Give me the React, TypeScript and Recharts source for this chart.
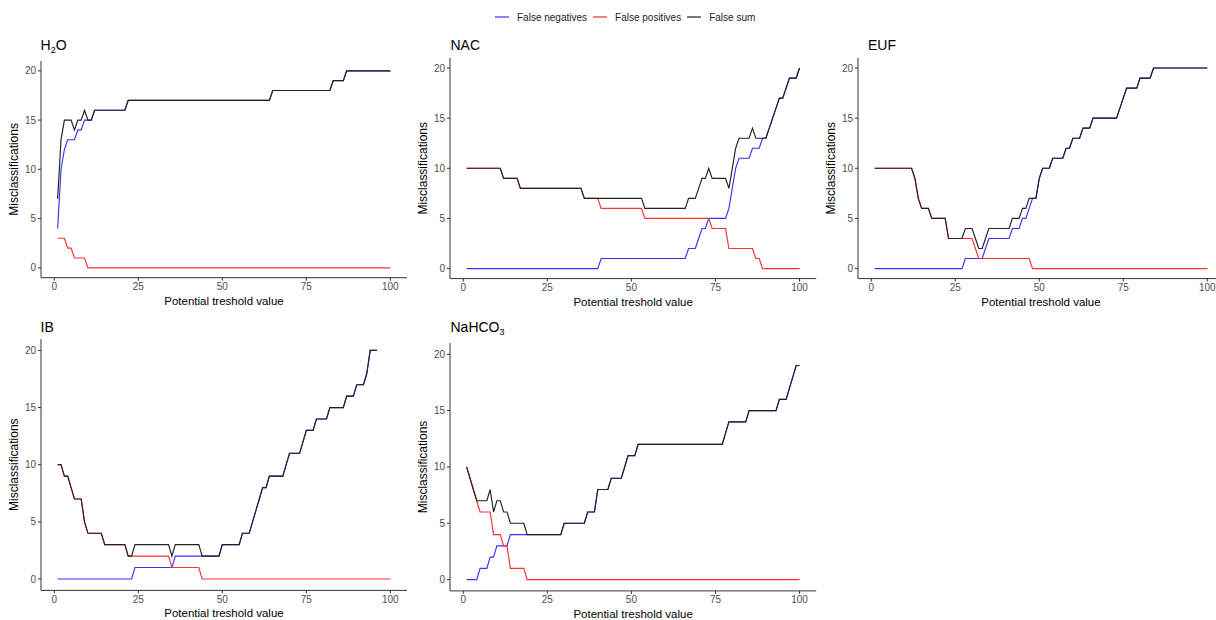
import React from 'react'
import { LineChart, Line, XAxis, YAxis } from 'recharts'

type Pt = [number, number]

// vertices: [threshold, misclassifications]
const h2oNeg: Pt[] = [[1, 4], [2, 10], [3, 12], [4, 13], [6, 13], [7, 14], [8, 14], [9, 15], [11, 15], [12, 16], [21, 16], [22, 17], [64, 17], [65, 18], [82, 18], [83, 19], [86, 19], [87, 20], [100, 20]]
const h2oPos: Pt[] = [[1, 3], [3, 3], [4, 2], [5, 2], [6, 1], [9, 1], [10, 0], [100, 0]]
const h2oSum: Pt[] = [[1, 7], [2, 13], [3, 15], [5, 15], [6, 14], [7, 15], [8, 15], [9, 16], [10, 15], [11, 15], [12, 16], [21, 16], [22, 17], [64, 17], [65, 18], [82, 18], [83, 19], [86, 19], [87, 20], [100, 20]]

const nacNeg: Pt[] = [[1, 0], [40, 0], [41, 1], [66, 1], [67, 2], [69, 2], [70, 3], [71, 4], [72, 4], [73, 5], [78, 5], [79, 6], [80, 8], [81, 10], [82, 11], [85, 11], [86, 12], [88, 12], [89, 13], [90, 13], [91, 14], [92, 15], [93, 16], [94, 17], [95, 17], [96, 18], [97, 19], [99, 19], [100, 20]]
const nacPos: Pt[] = [[1, 10], [11, 10], [12, 9], [16, 9], [17, 8], [35, 8], [36, 7], [40, 7], [41, 6], [53, 6], [54, 5], [73, 5], [74, 4], [78, 4], [79, 2], [86, 2], [87, 1], [88, 1], [89, 0], [100, 0]]
const nacSum: Pt[] = [[1, 10], [11, 10], [12, 9], [16, 9], [17, 8], [35, 8], [36, 7], [53, 7], [54, 6], [66, 6], [67, 7], [69, 7], [70, 8], [71, 9], [72, 9], [73, 10], [74, 9], [78, 9], [79, 8], [80, 10], [81, 12], [82, 13], [85, 13], [86, 14], [87, 13], [90, 13], [91, 14], [92, 15], [93, 16], [94, 17], [95, 17], [96, 18], [97, 19], [99, 19], [100, 20]]

const eufNeg: Pt[] = [[1, 0], [27, 0], [28, 1], [33, 1], [34, 2], [35, 3], [41, 3], [42, 4], [44, 4], [45, 5], [46, 5], [47, 6], [48, 7], [49, 7], [50, 9], [51, 10], [53, 10], [54, 11], [57, 11], [58, 12], [59, 12], [60, 13], [62, 13], [63, 14], [65, 14], [66, 15], [73, 15], [74, 16], [75, 17], [76, 18], [79, 18], [80, 19], [83, 19], [84, 20], [100, 20]]
const eufPos: Pt[] = [[1, 10], [12, 10], [13, 9], [14, 7], [15, 6], [17, 6], [18, 5], [22, 5], [23, 3], [30, 3], [31, 2], [32, 1], [47, 1], [48, 0], [100, 0]]
const eufSum: Pt[] = [[1, 10], [12, 10], [13, 9], [14, 7], [15, 6], [17, 6], [18, 5], [22, 5], [23, 3], [27, 3], [28, 4], [30, 4], [31, 3], [32, 2], [33, 2], [34, 3], [35, 4], [41, 4], [42, 5], [44, 5], [45, 6], [46, 6], [47, 7], [49, 7], [50, 9], [51, 10], [53, 10], [54, 11], [57, 11], [58, 12], [59, 12], [60, 13], [62, 13], [63, 14], [65, 14], [66, 15], [73, 15], [74, 16], [75, 17], [76, 18], [79, 18], [80, 19], [83, 19], [84, 20], [100, 20]]

const ibNeg: Pt[] = [[1, 0], [23, 0], [24, 1], [35, 1], [36, 2], [49, 2], [50, 3], [55, 3], [56, 4], [58, 4], [59, 5], [60, 6], [61, 7], [62, 8], [63, 8], [64, 9], [68, 9], [69, 10], [70, 11], [73, 11], [74, 12], [75, 13], [77, 13], [78, 14], [81, 14], [82, 15], [86, 15], [87, 16], [89, 16], [90, 17], [92, 17], [93, 18], [94, 20], [96, 20]]
const ibPos: Pt[] = [[1, 10], [2, 10], [3, 9], [4, 9], [5, 8], [6, 7], [8, 7], [9, 5], [10, 4], [14, 4], [15, 3], [21, 3], [22, 2], [34, 2], [35, 1], [43, 1], [44, 0], [100, 0]]
const ibSum: Pt[] = [[1, 10], [2, 10], [3, 9], [4, 9], [5, 8], [6, 7], [8, 7], [9, 5], [10, 4], [14, 4], [15, 3], [21, 3], [22, 2], [23, 2], [24, 3], [34, 3], [35, 2], [36, 3], [43, 3], [44, 2], [49, 2], [50, 3], [55, 3], [56, 4], [58, 4], [59, 5], [60, 6], [61, 7], [62, 8], [63, 8], [64, 9], [68, 9], [69, 10], [70, 11], [73, 11], [74, 12], [75, 13], [77, 13], [78, 14], [81, 14], [82, 15], [86, 15], [87, 16], [89, 16], [90, 17], [92, 17], [93, 18], [94, 20], [96, 20]]

const nahNeg: Pt[] = [[1, 0], [4, 0], [5, 1], [7, 1], [8, 2], [9, 2], [10, 3], [13, 3], [14, 4], [29, 4], [30, 5], [36, 5], [37, 6], [39, 6], [40, 8], [43, 8], [44, 9], [47, 9], [48, 10], [49, 11], [51, 11], [52, 12], [77, 12], [78, 13], [79, 14], [84, 14], [85, 15], [93, 15], [94, 16], [96, 16], [97, 17], [98, 18], [99, 19], [100, 19]]
const nahPos: Pt[] = [[1, 10], [2, 9], [3, 8], [4, 7], [5, 6], [8, 6], [9, 4], [11, 4], [12, 3], [13, 3], [14, 1], [18, 1], [19, 0], [100, 0]]
const nahSum: Pt[] = [[1, 10], [2, 9], [3, 8], [4, 7], [7, 7], [8, 8], [9, 6], [10, 7], [11, 7], [12, 6], [13, 6], [14, 5], [18, 5], [19, 4], [29, 4], [30, 5], [36, 5], [37, 6], [39, 6], [40, 8], [43, 8], [44, 9], [47, 9], [48, 10], [49, 11], [51, 11], [52, 12], [77, 12], [78, 13], [79, 14], [84, 14], [85, 15], [93, 15], [94, 16], [96, 16], [97, 17], [98, 18], [99, 19], [100, 19]]

const X_TICKS = [0, 25, 50, 75, 100]
const Y_TICKS = [0, 5, 10, 15, 20]
// ggplot-style 5% expansion around 1..100 and 0..20
const X_DOMAIN: [number, number] = [-3.95, 104.95]
const Y_DOMAIN: [number, number] = [-1, 21]

const SERIES = [
  { name: 'False negatives', color: '#3535ff' },
  { name: 'False positives', color: '#ff3030' },
  { name: 'False sum', color: '#222222' },
]

const FONT = '"Liberation Sans", Arial, sans-serif'
const YW = 41
const MT = 4
const MR = 4
const XH = 34

const rows = (pts: Pt[]) => pts.map(([x, y]) => ({ x, y }))

const XTitle = (props: any) => {
  const vb = props.viewBox ?? props
  return (
    <text x={vb.x + vb.width / 2} y={vb.y + 23} textAnchor="middle" dominantBaseline="central" fontSize={11.5} fill="#000">
      Potential treshold value
    </text>
  )
}

const YTitle = (props: any) => {
  const vb = props.viewBox ?? props
  const cx = vb.x + vb.width - 27
  const cy = vb.y + vb.height / 2
  return (
    <text x={cx} y={cy} transform={`rotate(-90 ${cx} ${cy})`} textAnchor="middle" dominantBaseline="central" fontSize={12} fill="#000">
      Misclassifications
    </text>
  )
}

type PanelProps = {
  title: React.ReactNode
  titleX: number
  titleY: number
  left: number
  top: number
  w: number
  h: number
  data: Pt[][]
}

const Panel = ({ title, titleX, titleY, left, top, w, h, data }: PanelProps) => (
  <>
    <div style={{ position: 'absolute', left: titleX, top: titleY, fontSize: 14, lineHeight: '14px', color: '#000', whiteSpace: 'nowrap' }}>
      {title}
    </div>
    <div style={{ position: 'absolute', left: left - YW, top: top - MT }}>
      <LineChart width={YW + w + MR} height={MT + h + XH} margin={{ top: MT, right: MR, left: 0, bottom: 0 }}>
        <XAxis
          type="number"
          dataKey="x"
          domain={X_DOMAIN}
          ticks={X_TICKS}
          interval={0}
          height={XH}
          tickSize={3}
          tickMargin={2.5}
          tick={{ fontSize: 10, fill: '#4d4d4d' }}
          axisLine={{ stroke: '#333' }}
          tickLine={{ stroke: '#333' }}
          label={XTitle}
        />
        <YAxis
          type="number"
          domain={Y_DOMAIN}
          ticks={Y_TICKS}
          interval={0}
          width={YW}
          tickSize={3}
          tickMargin={2}
          tick={{ fontSize: 10, fill: '#4d4d4d' }}
          axisLine={{ stroke: '#333' }}
          tickLine={{ stroke: '#333' }}
          label={YTitle}
        />
        {data.map((pts, i) => (
          <Line
            key={SERIES[i].name}
            data={rows(pts)}
            dataKey="y"
            type="linear"
            stroke={SERIES[i].color}
            strokeWidth={1.15}
            dot={false}
            activeDot={false}
            isAnimationActive={false}
          />
        ))}
      </LineChart>
    </div>
  </>
)

const Legend = () => (
  <div style={{ position: 'absolute', left: 495, top: 10, display: 'flex', alignItems: 'center', height: 14, fontSize: 10, color: '#222' }}>
    {SERIES.map((s, i) => (
      <div key={s.name} style={{ display: 'flex', alignItems: 'center', marginRight: i < 2 ? 6 : 0 }}>
        <svg width={14} height={14}>
          <line x1={0} x2={14} y1={7} y2={7} stroke={s.color} strokeWidth={1.2} />
        </svg>
        <span style={{ marginLeft: 8 }}>{s.name}</span>
      </div>
    ))}
  </div>
)

const sub = (t: string) => <sub style={{ fontSize: 9, verticalAlign: 'baseline', position: 'relative', top: 3 }}>{t}</sub>

export default function App() {
  return (
    <div style={{ position: 'absolute', left: 0, top: 0, width: 1216, height: 620, overflow: 'hidden', background: '#fff', fontFamily: FONT }}>
      <Legend />
      <Panel title={<>H{sub('2')}O</>} titleX={40.5} titleY={38} left={41} top={61.2} w={366} h={216.7} data={[h2oNeg, h2oPos, h2oSum]} />
      <Panel title="NAC" titleX={450.5} titleY={37.5} left={450.4} top={57.7} w={366.2} h={220.6} data={[nacNeg, nacPos, nacSum]} />
      <Panel title="EUF" titleX={868} titleY={37.5} left={858.4} top={57.7} w={365.9} h={220.6} data={[eufNeg, eufPos, eufSum]} />
      <Panel title="IB" titleX={40.5} titleY={320} left={41} top={339.3} w={366} h={251.4} data={[ibNeg, ibPos, ibSum]} />
      <Panel title={<>NaHCO{sub('3')}</>} titleX={450.5} titleY={320} left={450.4} top={342.7} w={366.2} h={247.9} data={[nahNeg, nahPos, nahSum]} />
    </div>
  )
}
